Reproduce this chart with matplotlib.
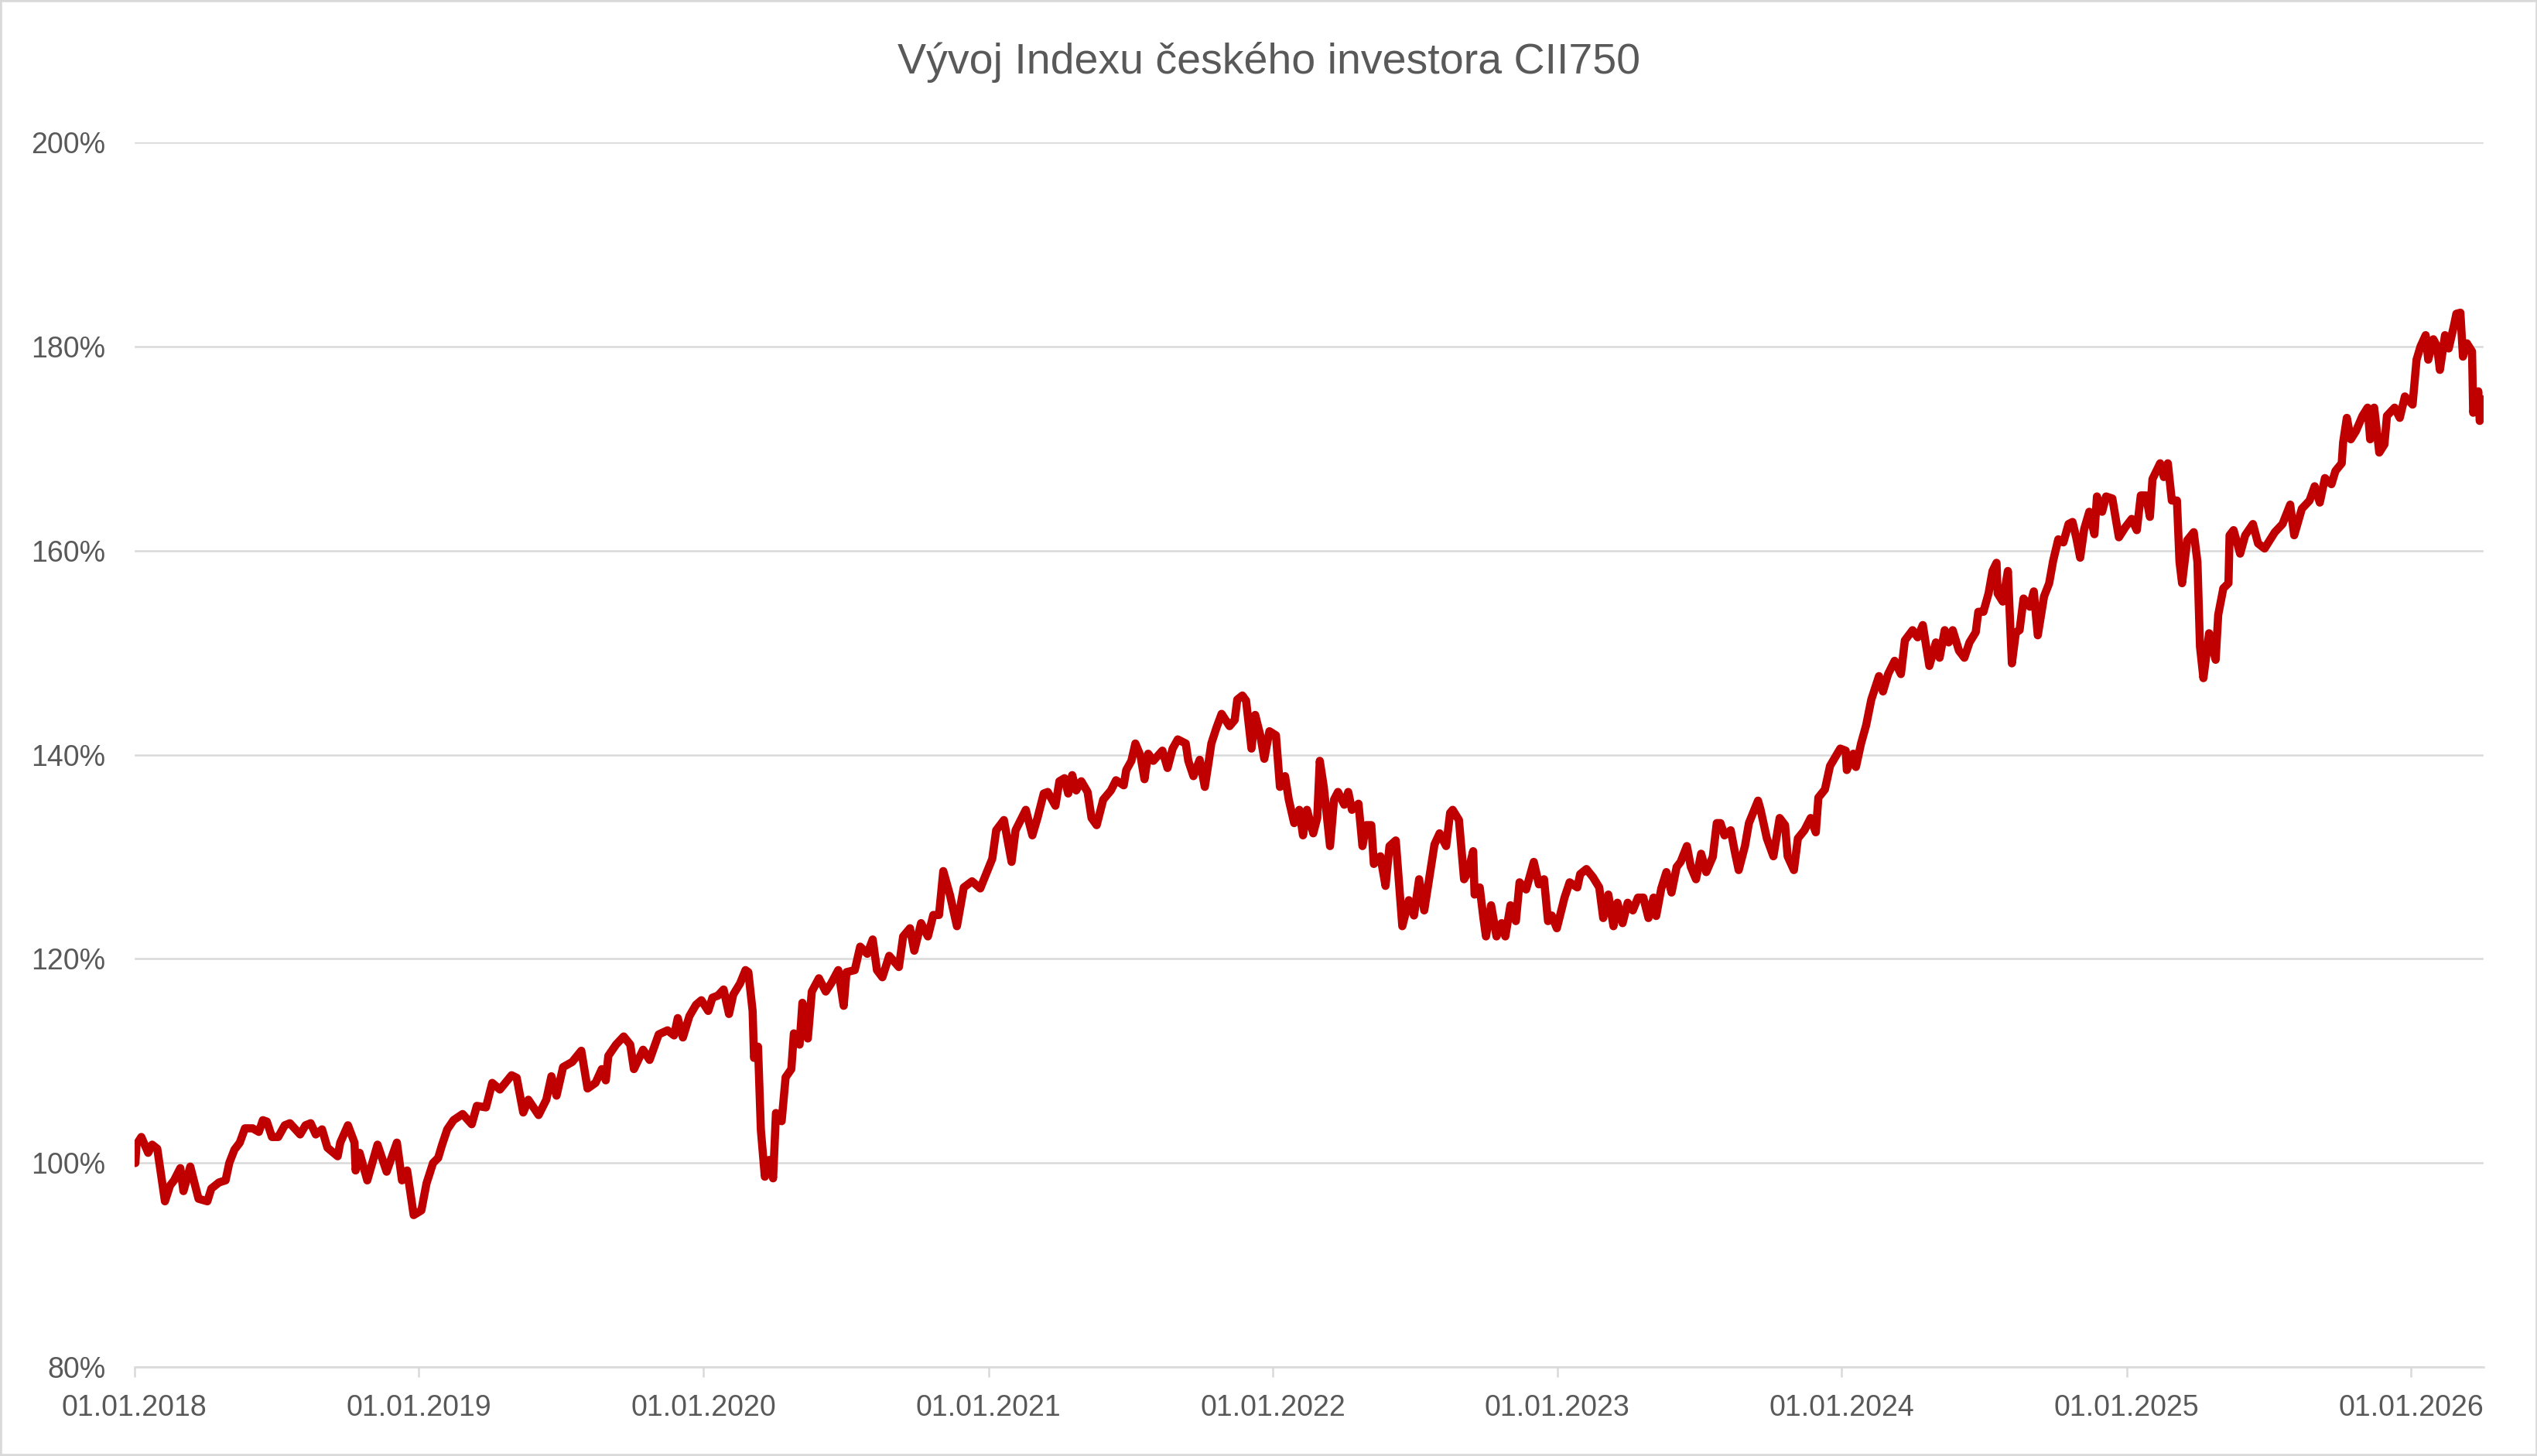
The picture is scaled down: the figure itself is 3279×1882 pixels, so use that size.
import matplotlib
matplotlib.use('Agg')
import matplotlib.pyplot as plt
import matplotlib.dates as mdates
from matplotlib.patches import Rectangle
from matplotlib.ticker import FuncFormatter, MultipleLocator
import numpy as np
import pandas as pd

# Vývoj indexu (roky od 1.1.2018, hodnota v %)
years_since_2018 = [
    0.003, 0.007, 0.024, 0.048, 0.062, 0.080, 0.107, 0.125, 0.139, 0.161,
    0.172, 0.196, 0.225, 0.256, 0.270, 0.297, 0.320, 0.333, 0.351, 0.370,
    0.388, 0.415, 0.437, 0.451, 0.465, 0.483, 0.505, 0.528, 0.546, 0.582,
    0.601, 0.619, 0.637, 0.659, 0.678, 0.714, 0.723, 0.750, 0.773, 0.777,
    0.791, 0.818, 0.854, 0.886, 0.922, 0.940, 0.958, 0.981,
    1.008, 1.026, 1.049, 1.067, 1.081, 1.099, 1.121, 1.153, 1.185, 1.203,
    1.235, 1.257, 1.284, 1.325, 1.343, 1.366, 1.384, 1.420, 1.447, 1.465,
    1.483, 1.506, 1.538, 1.570, 1.592, 1.620, 1.642, 1.656, 1.665, 1.692,
    1.719, 1.742, 1.755, 1.787, 1.810, 1.842, 1.873, 1.896, 1.909, 1.927,
    1.950, 1.973, 1.992,
    2.016, 2.031, 2.050, 2.070, 2.089, 2.104, 2.128, 2.147, 2.157, 2.172,
    2.177, 2.191, 2.201, 2.215, 2.230, 2.244, 2.254, 2.274, 2.288, 2.308,
    2.317, 2.337, 2.347, 2.366, 2.380, 2.405, 2.429, 2.448, 2.473, 2.492,
    2.502, 2.531, 2.550, 2.575, 2.594, 2.609, 2.628, 2.652, 2.686, 2.701,
    2.725, 2.740, 2.764, 2.788, 2.807, 2.827, 2.842, 2.866, 2.890, 2.914,
    2.943, 2.972,
    3.014, 3.028, 3.055, 3.082, 3.096, 3.132, 3.155, 3.173, 3.195, 3.209,
    3.236, 3.250, 3.268, 3.281, 3.295, 3.309, 3.327, 3.349, 3.363, 3.381,
    3.404, 3.431, 3.449, 3.476, 3.485, 3.503, 3.517, 3.535, 3.549, 3.562,
    3.580, 3.612, 3.630, 3.648, 3.666, 3.694, 3.703, 3.721, 3.743, 3.761,
    3.775, 3.784, 3.802, 3.820, 3.848, 3.866, 3.875, 3.893, 3.906, 3.925,
    3.938, 3.956, 3.970, 3.988,
    4.011, 4.025, 4.043, 4.056, 4.075, 4.093, 4.106, 4.120, 4.142, 4.156,
    4.165, 4.179, 4.201, 4.215, 4.229, 4.251, 4.265, 4.278, 4.301, 4.315,
    4.328, 4.346, 4.355, 4.378, 4.396, 4.410, 4.432, 4.455, 4.478, 4.496,
    4.514, 4.532, 4.550, 4.568, 4.586, 4.609, 4.623, 4.632, 4.654, 4.672,
    4.686, 4.704, 4.709, 4.727, 4.740, 4.749, 4.767, 4.786, 4.804, 4.817,
    4.835, 4.854, 4.867, 4.890, 4.917, 4.935, 4.953, 4.967, 4.980, 4.998,
    5.025, 5.043, 5.070, 5.080, 5.102, 5.125, 5.147, 5.161, 5.179, 5.197,
    5.211, 5.229, 5.247, 5.265, 5.283, 5.302, 5.320, 5.338, 5.347, 5.365,
    5.383, 5.401, 5.419, 5.433, 5.455, 5.469, 5.487, 5.505, 5.523, 5.546,
    5.560, 5.573, 5.587, 5.609, 5.623, 5.637, 5.659, 5.673, 5.705, 5.714,
    5.736, 5.759, 5.781, 5.800, 5.809, 5.831, 5.845, 5.868, 5.890, 5.908,
    5.917, 5.940, 5.958, 5.994,
    6.013, 6.017, 6.040, 6.049, 6.067, 6.085, 6.103, 6.130, 6.144, 6.162,
    6.185, 6.207, 6.221, 6.248, 6.266, 6.284, 6.307, 6.330, 6.343, 6.361,
    6.375, 6.389, 6.411, 6.430, 6.448, 6.470, 6.479, 6.497, 6.515, 6.529,
    6.543, 6.547, 6.565, 6.583, 6.597, 6.611, 6.624, 6.638, 6.660, 6.674,
    6.688, 6.710, 6.728, 6.742, 6.760, 6.778, 6.796, 6.810, 6.823, 6.837,
    6.851, 6.869, 6.887, 6.896, 6.914, 6.928, 6.950, 6.973, 6.996,
    7.018, 7.036, 7.050, 7.068, 7.082, 7.091, 7.118, 7.131, 7.145, 7.159,
    7.177, 7.186, 7.195, 7.213, 7.236, 7.249, 7.258, 7.270, 7.290, 7.313,
    7.322, 7.340, 7.358, 7.362, 7.376, 7.399, 7.417, 7.444, 7.462, 7.485,
    7.521, 7.548, 7.575, 7.589, 7.616, 7.643, 7.661, 7.679, 7.697, 7.720,
    7.734, 7.756, 7.761, 7.774, 7.788, 7.806, 7.829, 7.847, 7.856, 7.870,
    7.888, 7.906, 7.915, 7.942, 7.960, 7.978,
    8.005, 8.019, 8.033, 8.051, 8.060, 8.078, 8.091, 8.101, 8.119, 8.132,
    8.150, 8.159, 8.173, 8.182, 8.196, 8.214, 8.218, 8.236, 8.241, 8.255,
]

index_pct = [
    100.0, 101.8, 102.55, 101.0, 101.8, 101.4, 96.25, 97.8, 98.3, 99.5,
    97.25, 99.65, 96.5, 96.25, 97.5, 98.1, 98.3, 100.0, 101.3, 102.0,
    103.4, 103.4, 103.05, 104.2, 104.06, 102.55, 102.55, 103.7, 103.9, 102.8,
    103.7, 103.9, 102.8, 103.3, 101.5, 100.66, 102.0, 103.7, 102.0, 99.27,
    101.0, 98.3, 101.8, 99.15, 102.0, 98.3, 99.27, 94.9,
    95.36, 98.0, 100.0, 100.5, 101.8, 103.3, 104.2, 104.8, 103.8, 105.6,
    105.45, 107.85, 107.2, 108.6, 108.35, 104.95, 106.2, 104.7, 106.2, 108.5,
    106.6, 109.4, 109.9, 111.0, 107.3, 107.85, 109.2, 108.1, 110.5, 111.6,
    112.4, 111.6, 109.2, 111.1, 110.1, 112.6, 113.0, 112.5, 114.2, 112.3,
    114.4, 115.5, 115.95,
    114.9, 116.2, 116.4, 117.0, 114.6, 116.5, 117.6, 118.9, 118.7, 114.9,
    110.3, 111.4, 103.25, 98.66, 100.3, 98.5, 104.9, 104.1, 108.4, 109.2,
    112.7, 111.6, 115.7, 112.2, 116.8, 118.1, 116.8, 117.6, 118.9, 115.4,
    118.7, 118.9, 121.2, 120.5, 121.9, 118.9, 118.2, 120.3, 119.2, 122.2,
    123.0, 120.8, 123.5, 122.2, 124.3, 124.3, 128.6, 126.2, 123.2, 127.0,
    127.6, 126.9,
    129.8, 132.6, 133.6, 129.5, 132.6, 134.6, 132.1, 133.8, 136.2, 136.35,
    135.0, 137.4, 137.7, 136.2, 138.0, 136.5, 137.4, 136.35, 133.8, 133.1,
    135.6, 136.5, 137.5, 137.0, 138.5, 139.4, 141.1, 139.9, 137.6, 140.1,
    139.4, 140.4, 138.7, 140.6, 141.5, 141.1, 139.4, 137.9, 139.5, 136.85,
    139.4, 141.1, 142.65, 144.0, 142.8, 143.4, 145.4, 145.8, 145.3, 140.6,
    143.9, 141.9, 139.6, 142.3,
    141.9, 136.85, 137.9, 135.6, 133.3, 134.6, 132.1, 134.6, 132.3, 133.8,
    139.4, 136.85, 131.05, 135.6, 136.35, 135.1, 136.35, 134.6, 135.2, 131.05,
    133.1, 133.1, 129.3, 130.05, 127.15, 131.05, 131.6, 123.2, 125.75, 124.25,
    127.8, 124.75, 128.0, 131.2, 132.3, 131.05, 134.3, 134.6, 133.6, 127.8,
    128.5, 130.55, 126.3, 127.0, 124.0, 122.2, 125.25, 122.2, 123.5, 122.2,
    125.25, 123.7, 127.5, 126.8, 129.5, 127.3, 127.8, 123.7, 124.25, 123.0,
    126.0, 127.5, 127.0, 128.3, 128.8, 128.0, 127.0, 124.0, 126.3, 123.2,
    125.5, 123.5, 125.5, 124.75, 126.0, 126.0, 124.0, 126.0, 124.2, 126.9,
    128.5, 126.5, 129.0, 129.5, 131.05, 129.0, 127.8, 130.3, 128.5, 130.0,
    133.3, 133.3, 132.1, 132.6, 130.55, 128.7, 131.05, 133.3, 135.5, 134.6,
    131.8, 130.05, 133.8, 133.1, 130.05, 128.7, 131.8, 132.6, 133.8, 132.4,
    135.8, 136.6, 138.9, 140.6,
    140.4, 138.5, 140.1, 138.8, 141.1, 142.9, 145.4, 147.7, 146.2, 147.9,
    149.2, 147.9, 151.2, 152.2, 151.5, 152.7, 148.7, 151.0, 149.5, 152.2,
    151.0, 152.2, 150.2, 149.5, 151.0, 152.0, 154.0, 154.0, 155.8, 158.0,
    158.8, 155.8, 155.0, 158.0, 148.95, 152.0, 152.2, 155.3, 154.5, 156.0,
    151.7, 155.5, 156.8, 159.0, 161.1, 160.8, 162.6, 162.8, 161.3, 159.3,
    162.1, 163.8, 161.6, 165.3, 163.8, 165.3, 165.1, 161.3, 162.3,
    163.1, 162.0, 165.4, 165.4, 163.3, 167.0, 168.55, 167.2, 168.55, 164.9,
    164.9, 158.9, 156.8, 161.0, 161.8, 158.9, 150.6, 147.5, 151.9, 149.3,
    153.7, 156.3, 156.8, 161.5, 162.0, 159.7, 161.5, 162.6, 160.7, 160.2,
    161.8, 162.6, 164.5, 161.5, 164.1, 164.9, 166.3, 164.7, 167.1, 166.5,
    167.8, 168.55, 170.6, 173.0, 170.9, 171.7, 173.2, 174.0, 170.9, 174.0,
    169.6, 170.4, 173.2, 174.0, 173.0, 175.1,
    174.3, 178.7, 180.0, 181.1, 178.7, 180.7, 180.0, 177.7, 181.1, 179.8,
    182.0, 183.2, 183.3, 179.0, 180.3, 179.5, 173.5, 175.6, 172.7, 174.8,
]

y_ticks = [80, 100, 120, 140, 160, 180, 200]
title = 'Vývoj Indexu českého investora CII750'

TEXT_C = '#595959'
GRID_C = '#D9D9D9'
LINE_C = '#C00000'

plt.rcParams['font.family'] = ['Liberation Sans', 'DejaVu Sans']

start = pd.Timestamp('2018-01-01')
dates = start + pd.to_timedelta(np.array(years_since_2018) * 365.25, unit='D')

fig = plt.figure(figsize=(16.4, 9.41), dpi=200)
ax = fig.add_axes([0.0530, 0.0610, 0.9257, 0.8413])

ax.plot(dates, index_pct, color=LINE_C, lw=3.8, solid_joinstyle='round', solid_capstyle='round', zorder=3)

ax.set_ylim(y_ticks[0], y_ticks[-1])
ax.yaxis.set_major_locator(MultipleLocator(20))
ax.yaxis.set_major_formatter(FuncFormatter(lambda v, p: f'{v:.0f}%'))
ax.set_xlim(start, dates[-1])
ax.xaxis.set_major_locator(mdates.YearLocator())
ax.xaxis.set_major_formatter(mdates.DateFormatter('%d.%m.%Y'))

ax.grid(axis='y', color=GRID_C, lw=0.9)
ax.set_axisbelow(True)
for s in ['top', 'right', 'left']:
    ax.spines[s].set_visible(False)
ax.spines['bottom'].set_color(GRID_C)
ax.spines['bottom'].set_linewidth(0.9)

ax.tick_params(axis='y', length=0, pad=13.5, labelsize=13.5, labelcolor=TEXT_C)
ax.tick_params(axis='x', length=4.5, width=0.9, color=GRID_C, direction='out',
               pad=8, labelsize=13.5, labelcolor=TEXT_C)

fig.text(0.5, 0.957, title, ha='center', va='center', fontsize=20, color=TEXT_C)

fig.patches.append(Rectangle((0, 0), 1, 1, transform=fig.transFigure, fill=False,
                             edgecolor=GRID_C, lw=2.0))

fig.savefig('out.png', dpi=200, facecolor='white')
